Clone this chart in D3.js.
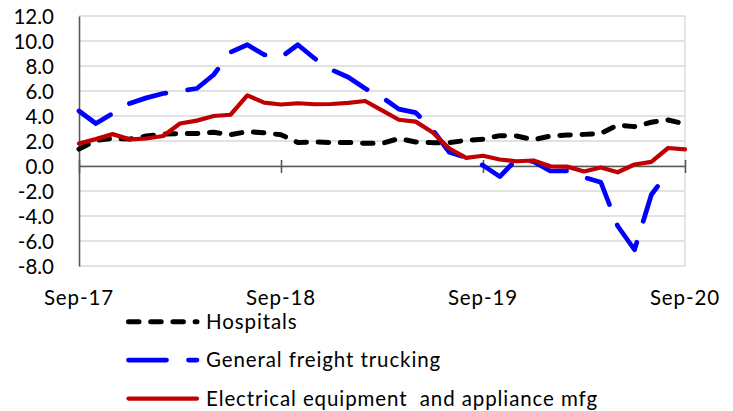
<!DOCTYPE html>
<html>
<head>
<meta charset="utf-8">
<script src="https://cdn.jsdelivr.net/npm/d3@7"></script>
<style>
  body { margin: 0; background: #fff; }
  text { font-family: Lato, "Open Sans", sans-serif; fill: #000; }
</style>
</head>
<body>
<svg id="chart" width="733" height="411"></svg>
<script>
// Monthly categories, Sep-17 through Sep-20
const months = d3.timeMonth.range(new Date(2017, 8, 1), new Date(2020, 9, 1)).map(d3.timeFormat("%b-%y"));
const xTickLabels = ["Sep-17", "Sep-18", "Sep-19", "Sep-20"];
const yTicks = [-8, -6, -4, -2, 0, 2, 4, 6, 8, 10, 12];

// Year-over-year change (%) by industry
const hospitals = [
  1.35, 2.05, 2.2, 2.15, 2.4, 2.55, 2.6, 2.6, 2.7, 2.5, 2.75, 2.65,
  2.5, 1.88, 1.92, 1.88, 1.88, 1.82, 1.8, 2.2, 1.92, 1.87, 1.87, 2.05,
  2.15, 2.43, 2.4, 2.1, 2.4, 2.48, 2.53, 2.6, 3.28, 3.15, 3.5, 3.68,
  3.36
];
const trucking = [
  4.4, 3.4, 4.2, 5.0, 5.45, 5.8, 6.0, 6.2, 7.3, 9.1, 9.7, 8.9,
  8.7, 9.7, 8.6, 7.7, 7.1, 6.2, 5.5, 4.55, 4.27, 2.9, 1.1, 0.69,
  0.05, -0.85, 0.55, 0.35, -0.4, -0.38, -0.9, -1.3, -4.8, -6.7, -2.3, -0.5,
  null
];
const electrical = [
  1.8, 2.15, 2.55, 2.13, 2.2, 2.4, 3.4, 3.63, 4.0, 4.1, 5.65, 5.07,
  4.92, 5.02, 4.94, 4.96, 5.05, 5.2, 4.45, 3.7, 3.55, 2.7, 1.4, 0.65,
  0.82, 0.52, 0.38, 0.44, -0.03, -0.05, -0.44, -0.12, -0.5, 0.12, 0.33, 1.44,
  1.33
];
const seriesNames = ["Hospitals", "General freight trucking", "Electrical equipment  and appliance mfg"];

const series = [
  { name: seriesNames[0], values: hospitals, color: "#000000", width: 5, dash: "10.5 11.7" },
  { name: seriesNames[1], values: trucking, color: "#0000FF", width: 4.75, dash: "38 22" },
  { name: seriesNames[2], values: electrical, color: "#C00000", width: 4.25, dash: null }
];

const svg = d3.select("#chart");
const plot = { left: 79, right: 685, top: 16, bottom: 266 };
const fontSize = 20.5;
const spacing = "0.9px";

const x = d3.scalePoint().domain(months).range([plot.left, plot.right]);
const y = d3.scaleLinear().domain([-8, 12]).range([plot.bottom, plot.top]);

// Horizontal gridlines
svg.append("g")
  .selectAll("line")
  .data(yTicks)
  .join("line")
  .attr("x1", plot.left).attr("x2", plot.right)
  .attr("y1", d => y(d)).attr("y2", d => y(d))
  .attr("stroke", "#d9d9d9").attr("stroke-width", 1.3);

// Right edge of plot area
svg.append("line")
  .attr("x1", plot.right).attr("x2", plot.right)
  .attr("y1", plot.top).attr("y2", plot.bottom)
  .attr("stroke", "#d9d9d9").attr("stroke-width", 1.3);

// Y axis
const yAxis = svg.append("g")
  .attr("transform", `translate(${plot.left},0)`)
  .call(d3.axisLeft(y).tickValues(yTicks).tickSize(0).tickPadding(25).tickFormat(d => d.toFixed(1)));
yAxis.select(".domain").attr("stroke", "#595959").attr("stroke-width", 1.6);
yAxis.selectAll("text")
  .attr("font-size", fontSize)
  .attr("font-family", "Lato, 'Open Sans', sans-serif")
  .attr("fill", "#000")
  .attr("x", 54 - plot.left)
  .attr("dy", "0.36em");

// X axis along the zero line, with crossing tick marks
const xAxis = svg.append("g")
  .attr("transform", `translate(0,${y(0)})`)
  .call(d3.axisBottom(x).tickValues(xTickLabels).tickSizeInner(7).tickSizeOuter(0).tickFormat(""));
xAxis.select(".domain").attr("stroke", "#595959").attr("stroke-width", 1.6);
xAxis.selectAll(".tick line")
  .attr("y1", -6)
  .attr("stroke", "#595959").attr("stroke-width", 1.6);

// X labels below the plot area
svg.append("g")
  .selectAll("text")
  .data(xTickLabels)
  .join("text")
  .attr("x", d => x(d))
  .attr("y", 304.5)
  .attr("text-anchor", "middle")
  .attr("font-size", fontSize)
  .style("letter-spacing", spacing)
  .text(d => d);

// Series lines
const line = d3.line()
  .defined(d => d != null)
  .x((d, i) => x(months[i]))
  .y(d => y(d));

svg.append("g")
  .selectAll("path")
  .data(series)
  .join("path")
  .attr("d", s => line(s.values))
  .attr("fill", "none")
  .attr("stroke", s => s.color)
  .attr("stroke-width", s => s.width)
  .attr("stroke-dasharray", s => s.dash)
  .attr("stroke-linecap", "round")
  .attr("stroke-linejoin", "round");

// Legend
const legendY = [321.8, 360, 398.5];
const legend = svg.append("g")
  .selectAll("g")
  .data(series)
  .join("g")
  .attr("transform", (s, i) => `translate(0,${legendY[i]})`);

legend.append("line")
  .attr("x1", 128.5).attr("x2", 197)
  .attr("y1", 0).attr("y2", 0)
  .attr("stroke", s => s.color)
  .attr("stroke-width", s => s.width)
  .attr("stroke-dasharray", s => s.dash)
  .attr("stroke-linecap", "round");

legend.append("text")
  .attr("x", 206)
  .attr("y", 7.4)
  .attr("font-size", fontSize)
  .style("white-space", "pre")
  .style("letter-spacing", spacing)
  .text(s => s.name);
</script>
</body>
</html>
